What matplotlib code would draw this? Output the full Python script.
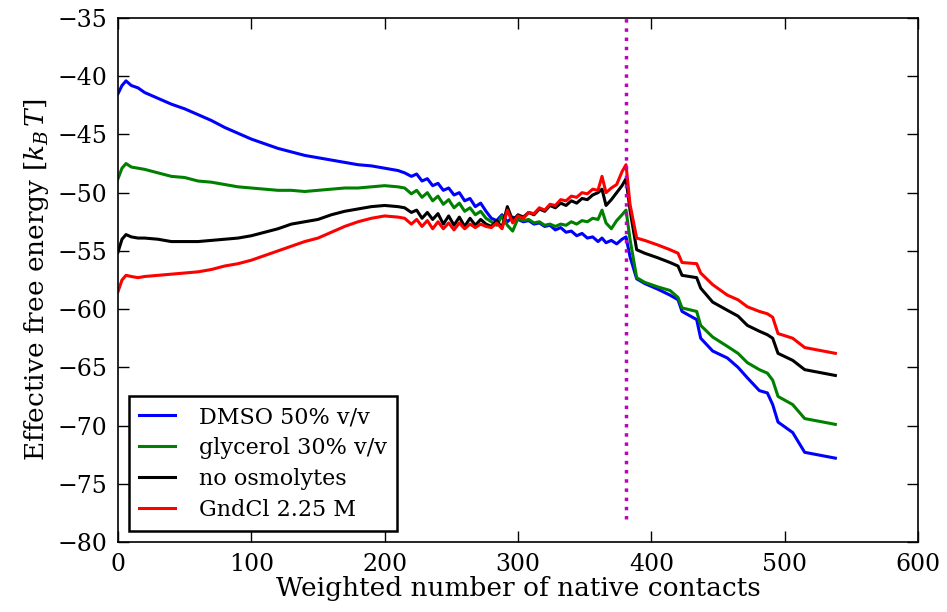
import matplotlib
matplotlib.use("Agg")
import matplotlib.pyplot as plt
import numpy as np

# weighted number of native contacts (shared grid for all curves)
contacts = [
    0, 3, 6, 10, 15, 20, 30, 40, 50, 60, 70, 80, 90, 100, 110, 120, 130, 140,
    150, 160, 170, 180, 190, 200, 210,
    215, 220, 224, 228, 232, 236, 240, 244, 248, 252, 256, 260, 264, 268, 272,
    276, 280, 284, 288, 292, 296, 300, 304, 308, 312, 316, 320, 324, 328, 332,
    336, 340, 344, 348, 352, 356, 360,
    363, 366, 370, 374, 378, 381, 384, 389,
    395, 405, 414, 420, 423, 434, 437, 446, 457, 465, 472, 481, 487, 491, 495,
    506, 515, 538,
]

dmso = [
    -41.5, -40.8, -40.4, -40.8, -41.0, -41.4, -41.9, -42.4, -42.8, -43.3, -43.8,
    -44.4, -44.9, -45.4, -45.8, -46.2, -46.5, -46.8, -47.0, -47.2, -47.4, -47.6,
    -47.7, -47.9, -48.1,
    -48.3, -48.6, -48.4, -49.0, -48.8, -49.4, -49.2, -49.8, -49.6, -50.2, -50.0,
    -50.7, -50.5, -51.2, -50.9, -51.6, -52.2, -52.4, -51.9, -52.5, -52.1, -52.3,
    -52.5, -52.4, -52.7, -52.6, -52.9, -52.8, -53.2, -53.0, -53.4, -53.3, -53.7,
    -53.5, -53.9, -53.8, -54.2,
    -53.9, -54.3, -54.1, -54.4, -54.0, -53.8, -55.5, -57.4,
    -57.8, -58.3, -58.8, -59.2, -60.2, -60.9, -62.5, -63.6, -64.2, -65.0, -65.9,
    -67.0, -67.2, -68.2, -69.7, -70.6, -72.3, -72.8,
]

glycerol = [
    -48.8, -47.9, -47.5, -47.8, -47.9, -48.0, -48.3, -48.6, -48.7, -49.0, -49.1,
    -49.3, -49.5, -49.6, -49.7, -49.8, -49.8, -49.9, -49.8, -49.7, -49.6, -49.6,
    -49.5, -49.4, -49.5,
    -49.6, -50.1, -49.8, -50.4, -50.0, -50.7, -50.3, -51.0, -50.6, -51.3, -50.9,
    -51.6, -51.3, -51.9, -51.6, -52.2, -52.5, -52.8, -52.0, -52.8, -53.3, -52.2,
    -52.4, -52.3, -52.6, -52.5, -52.8, -52.7, -52.9, -52.7, -52.8, -52.5, -52.7,
    -52.4, -52.5, -52.2, -52.3,
    -51.5, -52.6, -53.1, -52.4, -51.9, -51.5, -54.0, -57.3,
    -57.7, -58.1, -58.4, -59.0, -59.9, -60.2, -61.4, -62.4, -63.2, -63.8, -64.6,
    -65.2, -65.5, -66.1, -67.5, -68.2, -69.4, -69.9,
]

no_osmolytes = [
    -55.1, -54.0, -53.6, -53.8, -53.9, -53.9, -54.0, -54.2, -54.2, -54.2, -54.1,
    -54.0, -53.9, -53.7, -53.4, -53.1, -52.7, -52.5, -52.3, -51.9, -51.6, -51.4,
    -51.2, -51.1, -51.2,
    -51.3, -51.7, -51.5, -52.2, -51.7, -52.3, -51.8, -52.7, -52.0, -52.8, -52.1,
    -52.9, -52.2, -52.8, -52.3, -52.7, -52.9, -52.4, -53.0, -51.2, -52.4, -51.9,
    -52.1, -51.7, -51.9, -51.4, -51.6, -51.1, -51.3, -50.9, -51.1, -50.7, -50.9,
    -50.5, -50.6, -50.2, -50.0,
    -49.7, -51.1, -50.6, -50.0, -49.4, -48.8, -51.5, -54.9,
    -55.2, -55.6, -56.0, -56.3, -57.1, -57.3, -58.2, -59.4, -60.1, -60.6, -61.4,
    -61.9, -62.2, -62.5, -63.8, -64.4, -65.2, -65.7,
]

gndcl = [
    -58.5, -57.5, -57.1, -57.2, -57.3, -57.2, -57.1, -57.0, -56.9, -56.8, -56.6,
    -56.3, -56.1, -55.8, -55.4, -55.0, -54.6, -54.2, -53.9, -53.4, -52.9, -52.5,
    -52.2, -52.0, -52.1,
    -52.2, -52.7, -52.3, -52.9, -52.4, -53.1, -52.5, -53.1, -52.6, -53.2, -52.6,
    -53.1, -52.7, -53.0, -52.7, -52.9, -53.0, -52.6, -53.1, -51.5, -52.6, -52.0,
    -52.2, -51.7, -51.8, -51.3, -51.5, -51.0, -51.1, -50.6, -50.7, -50.3, -50.4,
    -50.0, -50.1, -49.7, -49.8,
    -48.6, -50.0, -49.6, -49.3, -48.2, -47.6, -51.0, -53.9,
    -54.1, -54.5, -54.9, -55.2, -56.0, -56.1, -56.9, -57.9, -58.8, -59.2, -59.8,
    -60.2, -60.4, -60.7, -62.1, -62.5, -63.3, -63.8,
]

labels = ["DMSO 50% v/v", "glycerol 30% v/v", "no osmolytes", "GndCl 2.25 M"]
colors = ["b", "g", "k", "r"]

cutoff_x = 381
cutoff_span = (-78, -35)

plt.rcParams["font.family"] = "DejaVu Serif"
plt.rcParams["mathtext.fontset"] = "dejavuserif"

fig = plt.figure(figsize=(9.47, 6.12), dpi=100)
ax = fig.add_axes([0.1246, 0.1144, 0.8448, 0.8562])

for series, label, color in zip([dmso, glycerol, no_osmolytes, gndcl], labels, colors):
    ax.plot(contacts, series, color=color, lw=2.2, label=label)

ax.vlines(cutoff_x, *cutoff_span, colors="m", linestyles=":", lw=2.5)

ax.set_xlim(0, 600)
ax.set_ylim(-80, -35)
ax.set_xticks(np.arange(0, 601, 100))
ax.set_yticks(np.arange(-80, -34, 5))
ax.tick_params(direction="in", length=8, width=1, top=True, right=True,
               labelsize=17, pad=8)
for spine in ax.spines.values():
    spine.set_linewidth(1.2)

ax.set_xlabel("Weighted number of native contacts", fontsize=19, labelpad=0)
ax.set_ylabel("Effective free energy [$k_B\\,T$]", fontsize=19, labelpad=4)

leg = ax.legend(loc="lower left", fontsize=16, fancybox=False, framealpha=1,
                borderaxespad=0.5, handlelength=1.6, labelspacing=0.4,
                borderpad=0.45, handletextpad=1.1)
leg.get_frame().set_edgecolor("black")
leg.get_frame().set_linewidth(1.8)

fig.savefig("out.png", dpi=100)
